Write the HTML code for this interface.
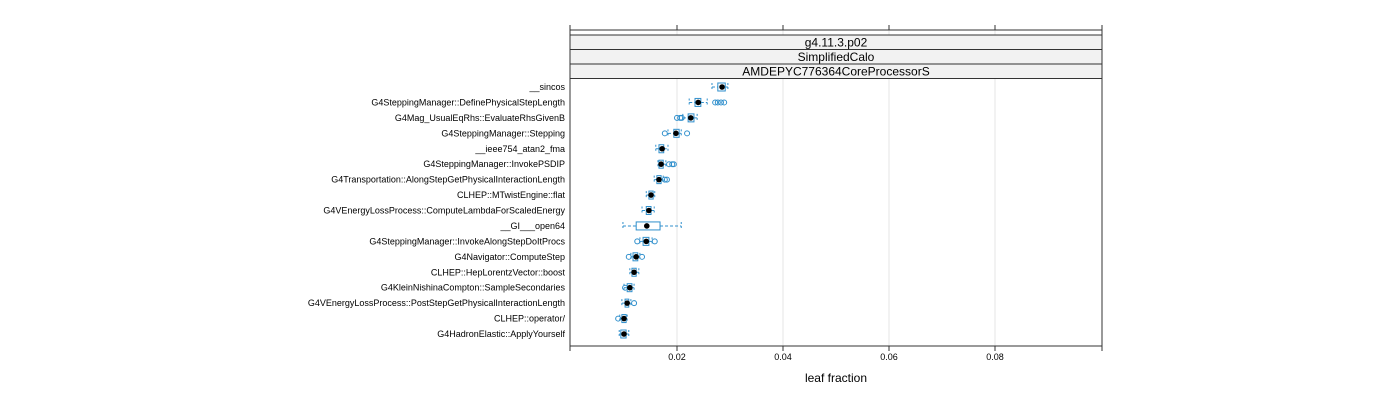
<!DOCTYPE html>
<html><head><meta charset="utf-8"><style>
body{margin:0;background:#fff}
svg text{font-family:"Liberation Sans",sans-serif}
</style></head><body>
<svg id="chart" width="1400" height="400" xmlns="http://www.w3.org/2000/svg"></svg>
<script>
const categories=["__sincos","G4SteppingManager::DefinePhysicalStepLength","G4Mag_UsualEqRhs::EvaluateRhsGivenB","G4SteppingManager::Stepping","__ieee754_atan2_fma","G4SteppingManager::InvokePSDIP","G4Transportation::AlongStepGetPhysicalInteractionLength","CLHEP::MTwistEngine::flat","G4VEnergyLossProcess::ComputeLambdaForScaledEnergy","__GI___open64","G4SteppingManager::InvokeAlongStepDoItProcs","G4Navigator::ComputeStep","CLHEP::HepLorentzVector::boost","G4KleinNishinaCompton::SampleSecondaries","G4VEnergyLossProcess::PostStepGetPhysicalInteractionLength","CLHEP::operator/","G4HadronElastic::ApplyYourself"];
const medians=[.0285,.0240,.0226,.0198,.0172,.0170,.0166,.0151,.0147,.0143,.0142,.0123,.0119,.0111,.0106,.0100,.0100];
const q1s=[.0277,.0234,.0221,.0194,.0166,.0166,.0162,.0147,.0142,.0123,.0136,.0117,.0115,.0106,.0102,.0096,.0094];
const q3s=[.0291,.0245,.0232,.0204,.0175,.0174,.0170,.0155,.0151,.0168,.0147,.0126,.0123,.0115,.0109,.0104,.0104];
const whiskLo=[.0266,.0223,.0211,.0183,.0160,.0164,.0157,.0142,.0134,.0098,.0130,.0113,.0111,.0100,.0096,.0092,.0091];
const whiskHi=[.0296,.0257,.0238,.0208,.0183,.0179,.0174,.0158,.0157,.0208,.0153,.0130,.0128,.0119,.0113,.0106,.0109];
const outliers=[[],[.0272,.0277,.0283,.0289],[.0200,.0206,.0209],[.0177,.0219],[],[.0185,.0191,.0194],[.0177,.0181],[],[],[],[.0125,.0158],[.0109,.0134],[],[.0102],[.0119],[.0089],[]];
const tickVals=[0.02,0.04,0.06,0.08];
const tickLabels=["0.02","0.04","0.06","0.08"];
const NS="http://www.w3.org/2000/svg";
const svg=document.getElementById('chart');
const L=570,R=1102,T=30,B=346;
const xs=v=>571+v*5300;
const ys=i=>87+i*(334-87)/(categories.length-1);
function mk(t,a,p){const e=document.createElementNS(NS,t);for(const k in a)e.setAttribute(k,a[k]);(p||svg).appendChild(e);return e;}
// grid
tickVals.forEach((v,i)=>{const g=mk('line',{x1:xs(v),x2:xs(v),y1:T,y2:B,stroke:'#e6e6e6','stroke-width':1});

});
// strips
const strips=["g4.11.3.p02","SimplifiedCalo","AMDEPYC776364CoreProcessorS"];
strips.forEach((s,i)=>{const y=35+i*14.5;
const r=mk('rect',{x:L,y:y,width:R-L,height:14.5,fill:'#f2f2f2',stroke:'#333','stroke-width':1});


const t=mk('text',{x:(L+R)/2,y:y+11.5,'text-anchor':'middle','font-size':12,fill:'#000'});t.textContent=s;

});
// frame
const f=mk('rect',{x:L,y:T,width:R-L,height:B-T,fill:'none',stroke:'#333','stroke-width':1});


// ticks
[0,...tickVals,0.1].forEach(v=>{const x=Math.round(xs(v)<L+2?L:(v==0.1?R:xs(v)));
[[B,B+5],[T,T-5]].forEach(([a,b])=>{const t=mk('line',{x1:x,x2:x,y1:a,y2:b,stroke:'#333'});

});});
tickVals.forEach((v,i)=>{const t=mk('text',{x:xs(v),y:360,'text-anchor':'middle','font-size':9});t.textContent=tickLabels[i];

});
const xt=mk('text',{x:836,y:382,'text-anchor':'middle','font-size':12});xt.textContent='leaf fraction';


const C='#2f8fcc';
categories.forEach((c,i)=>{const y=ys(i);
const lb=mk('text',{x:565,y:y+3,'text-anchor':'end','font-size':9});lb.textContent=c;


const g=mk('g',{});


mk('line',{x1:xs(whiskLo[i]),x2:xs(q1s[i]),y1:y,y2:y,stroke:C,'stroke-dasharray':'3,2'},g);
mk('line',{x1:xs(q3s[i]),x2:xs(whiskHi[i]),y1:y,y2:y,stroke:C,'stroke-dasharray':'3,2'},g);
mk('line',{x1:xs(whiskLo[i]),x2:xs(whiskLo[i]),y1:y-4,y2:y+4,stroke:C,'stroke-dasharray':'2,2'},g);
mk('line',{x1:xs(whiskHi[i]),x2:xs(whiskHi[i]),y1:y-4,y2:y+4,stroke:C,'stroke-dasharray':'2,2'},g);
mk('rect',{x:xs(q1s[i]),y:y-4,width:xs(q3s[i])-xs(q1s[i]),height:8,fill:'none',stroke:C},g);
outliers[i].forEach(o=>mk('circle',{cx:xs(o),cy:y,r:2.5,fill:'none',stroke:C},g));
mk('circle',{cx:xs(medians[i]),cy:y,r:2.8,fill:'#000'},g);
});
</script>
</body></html>
